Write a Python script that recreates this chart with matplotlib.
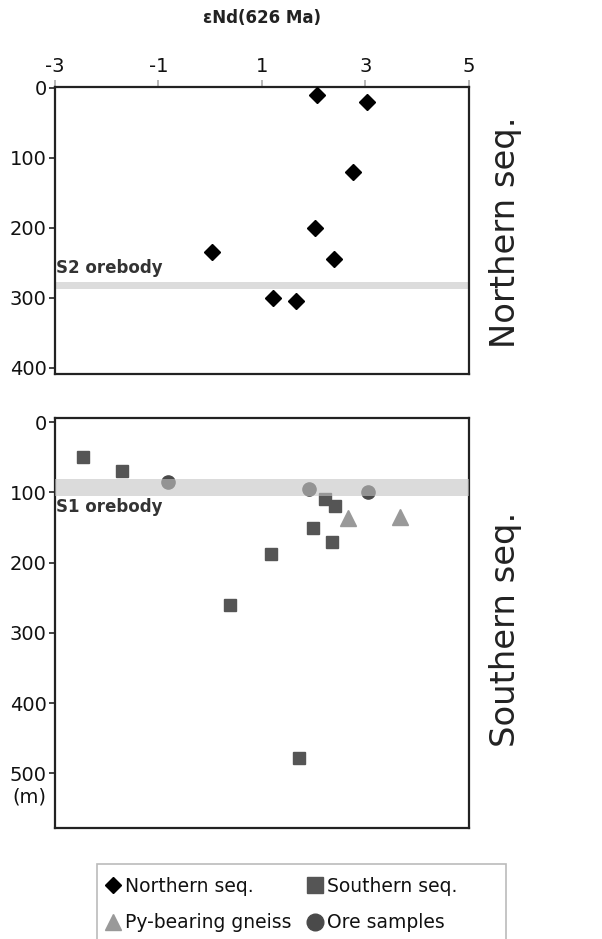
import matplotlib
matplotlib.use("Agg")
import matplotlib.pyplot as plt
from matplotlib.lines import Line2D
from matplotlib.patches import Rectangle

plt.rcParams['font.family'] = ['DejaVu Sans']
plt.rcParams['axes.unicode_minus'] = False

# ---- data ----
north_end = [2.07, 3.03, 2.75, 2.02, 0.04, 2.39, 1.22, 1.65]
north_depth = [10, 20, 120, 200, 235, 245, 300, 304]

south_end = [-2.45, -1.71, 2.22, 2.41, 1.98, 2.35, 1.17, 0.38, 1.71]
south_depth = [50, 69, 110, 119, 151, 170, 188, 260, 478]

py_end = [2.66, 3.66]
py_depth = [137, 135]

ore_end = [-0.81, 1.90, 3.04]
ore_depth = [85, 95, 100]

x_ticks = [-3, -1, 1, 3, 5]
y_ticks_north = [0, 100, 200, 300, 400]
y_ticks_south = [0, 100, 200, 300, 400, 500]

s2_band = (277, 288)
s1_band = (81, 105)

W, H = 602, 939
fig = plt.figure(figsize=(W / 100, H / 100), dpi=100)

def fx(px):
    return px / W

def fy(py):
    return 1 - py / H

ax1 = fig.add_axes([fx(55), fy(374), fx(469 - 55), (374 - 87) / H])
ax2 = fig.add_axes([fx(55), fy(828), fx(469 - 55), (828 - 418) / H])

spine_col = '#222222'
for ax in (ax1, ax2):
    ax.set_xlim(-3, 5)
    for s in ax.spines.values():
        s.set_color(spine_col)
        s.set_linewidth(1.6)
    ax.tick_params(axis='y', direction='out', length=4, width=1.2, color=spine_col,
                   labelsize=14, pad=2, labelcolor='#111111')

# top panel
ax1.set_ylim(409, -1)
ax1.set_yticks(y_ticks_north)
ax1.set_xticks(x_ticks)
ax1.xaxis.tick_top()
ax1.tick_params(axis='x', direction='out', length=5, width=1.2, color='#aaaaaa',
                labelsize=14, pad=3, labelcolor='#111111')
ax1.axhspan(*s2_band, color='#dcdcdc', lw=0, zorder=1)
ax1.plot(north_end, north_depth, ls='none', marker='D', ms=8.5, color='black', zorder=3)
ax1.text(-2.98, 257, 'S2 orebody', fontsize=12, fontweight='bold', color='#333333',
         va='center', ha='left')

# bottom panel
ax2.set_ylim(578, -6)
ax2.set_yticks(y_ticks_south)
ax2.set_xticks([])
ax2.plot(south_end, south_depth, ls='none', marker='s', ms=9, color='#555555', zorder=2)
ax2.plot(py_end, py_depth, ls='none', marker='^', ms=12, color='#999999', zorder=2)
ax2.plot(ore_end, ore_depth, ls='none', marker='o', ms=9.5, color='#4a4a4a', zorder=2)
ax2.axhspan(*s1_band, color='#c4c4c4', alpha=0.6, lw=0, zorder=4)
ax2.text(-2.98, 121, 'S1 orebody', fontsize=12, fontweight='bold', color='#333333',
         va='center', ha='left', zorder=5)
ax2.text(-3.5, 534, '(m)', fontsize=14, color='#111111', va='center', ha='center',
         clip_on=False)

# titles / side labels
fig.text(fx(262), fy(18), 'εNd(626 Ma)', fontsize=12, fontweight='bold',
         ha='center', va='center', color='#222222')
fig.text(fx(506), fy(232), 'Northern seq.', fontsize=24.3, rotation=90,
         ha='center', va='center', color='#222222')
fig.text(fx(506), fy(629), 'Southern seq.', fontsize=24.3, rotation=90,
         ha='center', va='center', color='#222222')

# legend box (extends past the bottom edge, as in the reference)
fig.patches.append(Rectangle((fx(97), fy(950)), fx(506 - 97), (950 - 864) / H,
                             transform=fig.transFigure, facecolor='white',
                             edgecolor='#bbbbbb', lw=1.2, zorder=0))

handles = [
    Line2D([], [], ls='none', marker='D', ms=8, color='black', label='Northern seq.'),
    Line2D([], [], ls='none', marker='^', ms=12, color='#999999', label='Py-bearing gneiss'),
    Line2D([], [], ls='none', marker='s', ms=12, color='#555555', label='Southern seq.'),
    Line2D([], [], ls='none', marker='o', ms=12, color='#4a4a4a', label='Ore samples'),
]
leg = fig.legend(handles=handles, ncol=2, loc='upper left',
                 bbox_to_anchor=(fx(104.6), fy(877)), borderaxespad=0,
                 fontsize=13.5, frameon=False,
                 handlelength=0.9, handletextpad=0.19, columnspacing=0.8,
                 labelspacing=0.92, borderpad=0)
for t in leg.get_texts():
    t.set_color('#111111')

fig.savefig('out.png', dpi=100)
